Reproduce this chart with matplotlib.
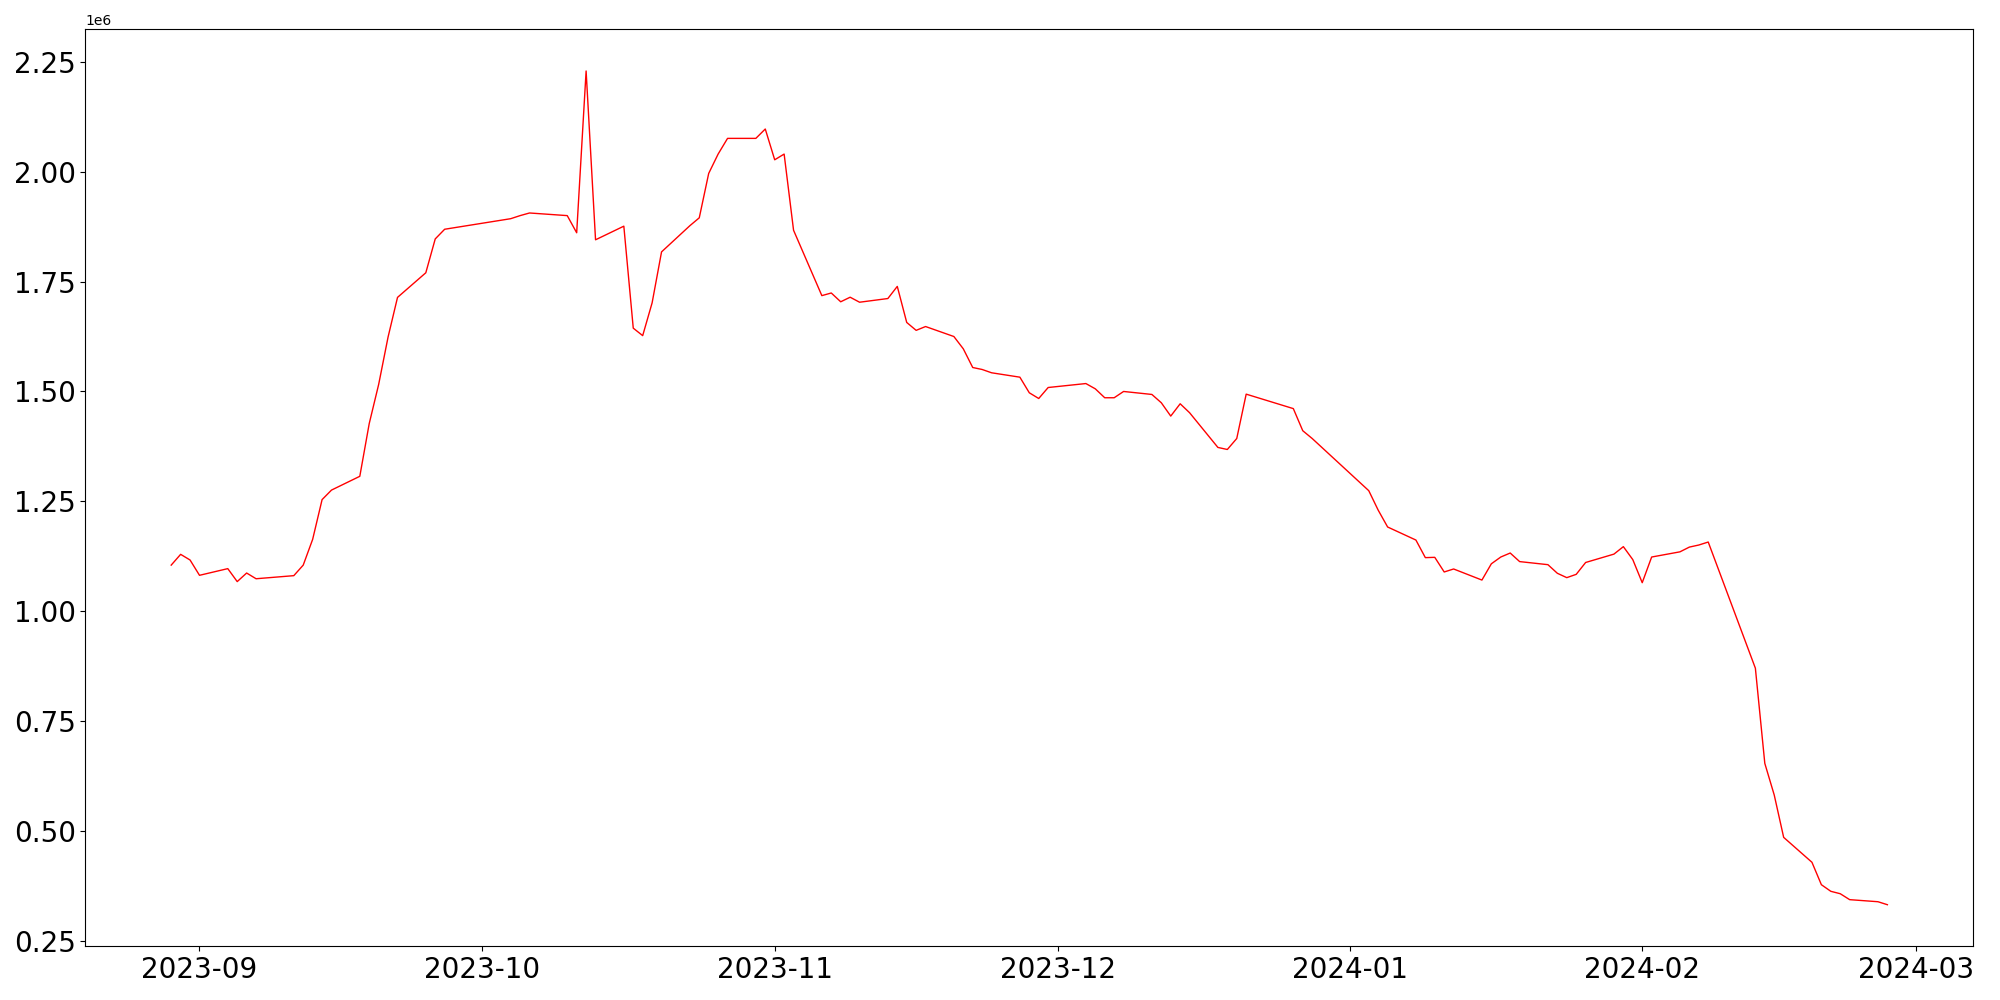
import matplotlib
matplotlib.use("Agg")
import matplotlib.pyplot as plt
import matplotlib.dates as mdates
import pandas as pd

dates = [
    "2023-08-29", "2023-08-30", "2023-08-31", "2023-09-01", "2023-09-04", "2023-09-05",
    "2023-09-06", "2023-09-07", "2023-09-11", "2023-09-12", "2023-09-13", "2023-09-14",
    "2023-09-15", "2023-09-18", "2023-09-19", "2023-09-20", "2023-09-21", "2023-09-22",
    "2023-09-25", "2023-09-26", "2023-09-27", "2023-10-04", "2023-10-05", "2023-10-06",
    "2023-10-10", "2023-10-11", "2023-10-12", "2023-10-13", "2023-10-16", "2023-10-17",
    "2023-10-18", "2023-10-19", "2023-10-20", "2023-10-23", "2023-10-24", "2023-10-25",
    "2023-10-26", "2023-10-27", "2023-10-30", "2023-10-31", "2023-11-01", "2023-11-02",
    "2023-11-03", "2023-11-06", "2023-11-07", "2023-11-08", "2023-11-09", "2023-11-10",
    "2023-11-13", "2023-11-14", "2023-11-15", "2023-11-16", "2023-11-17", "2023-11-20",
    "2023-11-21", "2023-11-22", "2023-11-23", "2023-11-24", "2023-11-27", "2023-11-28",
    "2023-11-29", "2023-11-30", "2023-12-04", "2023-12-05", "2023-12-06", "2023-12-07",
    "2023-12-08", "2023-12-11", "2023-12-12", "2023-12-13", "2023-12-14", "2023-12-15",
    "2023-12-18", "2023-12-19", "2023-12-20", "2023-12-21", "2023-12-26", "2023-12-27",
    "2023-12-28", "2024-01-03", "2024-01-04", "2024-01-05", "2024-01-08", "2024-01-09",
    "2024-01-10", "2024-01-11", "2024-01-12", "2024-01-15", "2024-01-16", "2024-01-17",
    "2024-01-18", "2024-01-19", "2024-01-22", "2024-01-23", "2024-01-24", "2024-01-25",
    "2024-01-26", "2024-01-29", "2024-01-30", "2024-01-31", "2024-02-01", "2024-02-02",
    "2024-02-05", "2024-02-06", "2024-02-07", "2024-02-08", "2024-02-13", "2024-02-14",
    "2024-02-15", "2024-02-16", "2024-02-19", "2024-02-20", "2024-02-21", "2024-02-22",
    "2024-02-23", "2024-02-26", "2024-02-27",
]

values = [
    1.105, 1.1295, 1.1166, 1.0818, 1.097, 1.0675,
    1.087, 1.074, 1.081, 1.105, 1.1636, 1.254,
    1.2757, 1.307, 1.427, 1.516, 1.624, 1.714,
    1.770, 1.847, 1.869, 1.893, 1.900, 1.906,
    1.900, 1.861, 2.229, 1.845, 1.876, 1.644,
    1.627, 1.7016, 1.8175, 1.877, 1.895, 1.996,
    2.040, 2.0757, 2.0757, 2.097, 2.027, 2.040,
    1.8667, 1.718, 1.724, 1.704, 1.7144, 1.703,
    1.7114, 1.739, 1.657, 1.639, 1.6477, 1.625,
    1.597, 1.5545, 1.55, 1.5425, 1.5325, 1.497,
    1.484, 1.509, 1.518, 1.506, 1.4857, 1.4857,
    1.500, 1.4932, 1.4743, 1.444, 1.472, 1.4516,
    1.3727, 1.368, 1.393, 1.4939, 1.461, 1.4107,
    1.393, 1.2743, 1.230, 1.1917, 1.162, 1.122,
    1.1227, 1.0894, 1.0962, 1.071, 1.108, 1.1234,
    1.1325, 1.113, 1.106, 1.0864, 1.0765, 1.084,
    1.111, 1.130, 1.147, 1.1175, 1.065, 1.1234,
    1.1352, 1.146, 1.1507, 1.1575, 0.8705, 0.654,
    0.582, 0.4857, 0.429, 0.378, 0.363, 0.3575,
    0.344, 0.3393, 0.3325,
]

x = pd.to_datetime(dates)
y = [v * 1e6 for v in values]

fig, ax = plt.subplots(figsize=(20, 10), dpi=100)
ax.plot(x, y, color="red", linewidth=1.0)
ax.xaxis.set_major_locator(mdates.MonthLocator())
ax.xaxis.set_major_formatter(mdates.DateFormatter("%Y-%m"))
ax.tick_params(axis="both", labelsize=20)
fig.subplots_adjust(left=0.0427, right=0.9866, top=0.9707, bottom=0.0536)
fig.savefig("out.png", dpi=100)
